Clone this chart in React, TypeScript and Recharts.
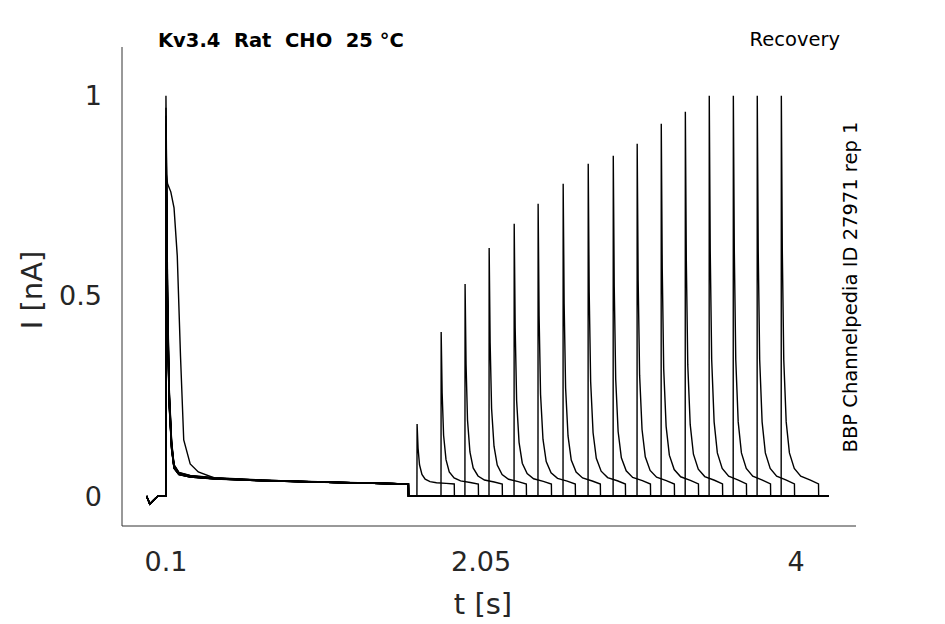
import React from 'react';
import { LineChart, Line, XAxis, YAxis } from 'recharts';

// recovery pulse times [s] and normalised peaks
const spikeTimes = [1.654, 1.803, 1.951, 2.1, 2.255, 2.403, 2.558, 2.713, 2.868, 3.016, 3.165, 3.314, 3.462, 3.611, 3.759, 3.908];
const spikePeaks = [0.18, 0.41, 0.53, 0.62, 0.68, 0.73, 0.78, 0.83, 0.85, 0.88, 0.93, 0.96, 1.0, 1.0, 1.0, 1.0];
// first pulse peaks per sweep
const firstPeaks = [0.81, 1.0, 0.97, 0.95, 0.93, 0.92, 0.9, 0.9, 0.88, 0.87, 0.86, 0.85, 0.84, 0.83, 0.82, 0.81];
// shape of first pulse decay: time offsets and fraction of the peak above baseline
const firstOffsets = [0, 0.01, 0.02, 0.035, 0.05, 0.08, 0.15, 0.3, 0.6, 1.0, 1.5];
const firstFrac = [1.0, 0.5, 0.25, 0.11, 0.05, 0.03, 0.022, 0.016, 0.01, 0.005, 0.0];
// slowest sweep (shoulder)
const slowTimes = [0.1, 0.11, 0.13, 0.15, 0.17, 0.19, 0.21, 0.25, 0.3, 0.4, 0.6, 1.0, 1.6];
const slowVals = [0.81, 0.78, 0.76, 0.72, 0.6, 0.35, 0.14, 0.08, 0.06, 0.045, 0.04, 0.035, 0.03];
// shape of recovery pulse decay
const recOffsets = [0, 0.006, 0.015, 0.03, 0.05, 0.08, 0.12, 0.18, 0.23];
const recFrac = [1.0, 0.6, 0.32, 0.16, 0.08, 0.04, 0.02, 0.01, 0.0];

const BASE = 0.03;

const traces = spikeTimes.map((ts, k) => {
  const pts: { t: number; v: number }[] = [
    { t: -0.02, v: 0 }, { t: 0.0, v: -0.02 }, { t: 0.05, v: 0 }, { t: 0.099, v: 0 },
  ];
  if (k === 0) {
    slowTimes.forEach((t, i) => pts.push({ t, v: slowVals[i] }));
  } else {
    const p = firstPeaks[k];
    firstOffsets.forEach((o, i) => pts.push({ t: 0.1 + o, v: BASE + (p - BASE) * firstFrac[i] }));
  }
  pts.push({ t: 1.6, v: BASE }, { t: 1.601, v: 0 }, { t: ts - 0.001, v: 0 });
  recOffsets.forEach((o, i) => pts.push({ t: ts + o, v: BASE + (spikePeaks[k] - BASE) * recFrac[i] }));
  const end = ts + 0.23;
  pts.push({ t: end, v: BASE }, { t: end + 0.001, v: 0 }, { t: 4.2, v: 0 });
  return pts;
});

const xTicks = [0.1, 2.05, 4];
const yTicks = [0, 0.5, 1];

const App: React.FC = () => (
  <div style={{ position: 'absolute', left: 0, top: 0, width: 945, height: 624, background: '#fff', fontFamily: 'DejaVu Sans' }}>
    <LineChart width={945} height={624} margin={{ left: 62, top: 47, right: 89, bottom: 58 }}>
      <XAxis
        type="number"
        dataKey="t"
        domain={[-0.172, 4.37]}
        ticks={xTicks}
        tickLine={false}
        tickMargin={20}
        height={40}
        stroke="#333"
        tick={{ fontSize: 27, fill: '#262626' }}
        allowDuplicatedCategory={false}
      />
      <YAxis
        type="number"
        domain={[-0.075, 1.122]}
        ticks={yTicks}
        tickFormatter={(v) => String(v)}
        tickLine={false}
        tickMargin={14}
        width={60}
        stroke="#333"
        tick={{ fontSize: 27, fill: '#262626' }}
      />
      {traces.map((d, i) => (
        <Line key={i} data={d} dataKey="v" type="linear" stroke="#000" strokeWidth={1.4} dot={false} isAnimationActive={false} />
      ))}
    </LineChart>
    <svg width={945} height={624} style={{ position: 'absolute', left: 0, top: 0, pointerEvents: 'none', whiteSpace: 'pre' }}>
      <text x={158} y={47} fontSize={19.5} fontWeight="bold" fill="#000" xmlSpace="preserve">Kv3.4  Rat  CHO  25 °C</text>
      <text x={840} y={46} fontSize={19.5} textAnchor="end" fill="#000">Recovery</text>
      <text transform="translate(857,287) rotate(-90)" fontSize={19.5} textAnchor="middle" fill="#000">BBP Channelpedia ID 27971 rep 1</text>
      <text x={483} y={614} fontSize={29} textAnchor="middle" fill="#262626">t [s]</text>
      <text transform="translate(42,290) rotate(-90)" fontSize={29} textAnchor="middle" fill="#262626">I [nA]</text>
    </svg>
  </div>
);

export default App;
